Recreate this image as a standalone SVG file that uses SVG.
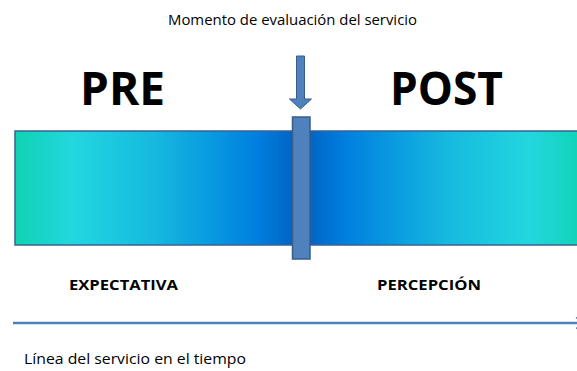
<svg xmlns="http://www.w3.org/2000/svg" width="577" height="371" viewBox="0 0 577 371">
<style>
.t{font-family:"Open Sans","Noto Sans","Liberation Sans",sans-serif;fill:#000}
.big{font-size:47px;font-weight:bold}
.lab{font-size:14px;font-weight:bold}
.sm{font-size:14px}
</style>
<defs>
<linearGradient id="g" gradientUnits="userSpaceOnUse" x1="15" y1="0" x2="587" y2="0">
<stop offset="0" stop-color="#0fd3b2"/>
<stop offset="0.1" stop-color="#22d7df"/>
<stop offset="0.24" stop-color="#16badf"/>
<stop offset="0.35" stop-color="#0897e0"/>
<stop offset="0.42" stop-color="#0080df"/>
<stop offset="0.5" stop-color="#005fbf"/>
<stop offset="0.58" stop-color="#0080df"/>
<stop offset="0.65" stop-color="#0897e0"/>
<stop offset="0.76" stop-color="#16badf"/>
<stop offset="0.9" stop-color="#22d7df"/>
<stop offset="1" stop-color="#0fd3b2"/>
</linearGradient>
</defs>
<g id="title"><text class="t sm" x="168" y="25" textLength="249" lengthAdjust="spacingAndGlyphs">Momento de evaluación del servicio</text></g>
<g id="pre"><text class="t big" x="80" y="105" textLength="85" lengthAdjust="spacingAndGlyphs">PRE</text></g>
<g id="post"><text class="t big" x="390" y="105" textLength="113" lengthAdjust="spacingAndGlyphs">POST</text></g>
<g id="bar"><rect x="15" y="131" width="575" height="114" fill="url(#g)" stroke="#3a6294" stroke-width="1.5"/></g>
<g id="moment"><rect x="292.5" y="117" width="17.5" height="142" fill="#4f81bd" stroke="#385d8a" stroke-width="1.5"/></g>
<g id="connectors">
<path d="M296.5,56 H304.5 V99 H311.5 L300.5,109 L289.5,99 H296.5 Z" fill="#4f81bd" stroke="#385d8a" stroke-width="1"/>
<line x1="13" y1="323" x2="586" y2="323" stroke="#4f81bd" stroke-width="2.5"/>
<path d="M576,317.5 L586,323 L576,328.5" fill="none" stroke="#4f81bd" stroke-width="1.5"/>
</g>
<g id="expectativa"><text class="t lab" x="69" y="290" textLength="109" lengthAdjust="spacingAndGlyphs">EXPECTATIVA</text></g>
<g id="percepcion"><text class="t lab" x="377" y="290" textLength="104" lengthAdjust="spacingAndGlyphs">PERCEPCIÓN</text></g>
<g id="linea"><text class="t sm" x="24" y="364" textLength="222" lengthAdjust="spacingAndGlyphs">Línea del servicio en el tiempo</text></g>
</svg>
